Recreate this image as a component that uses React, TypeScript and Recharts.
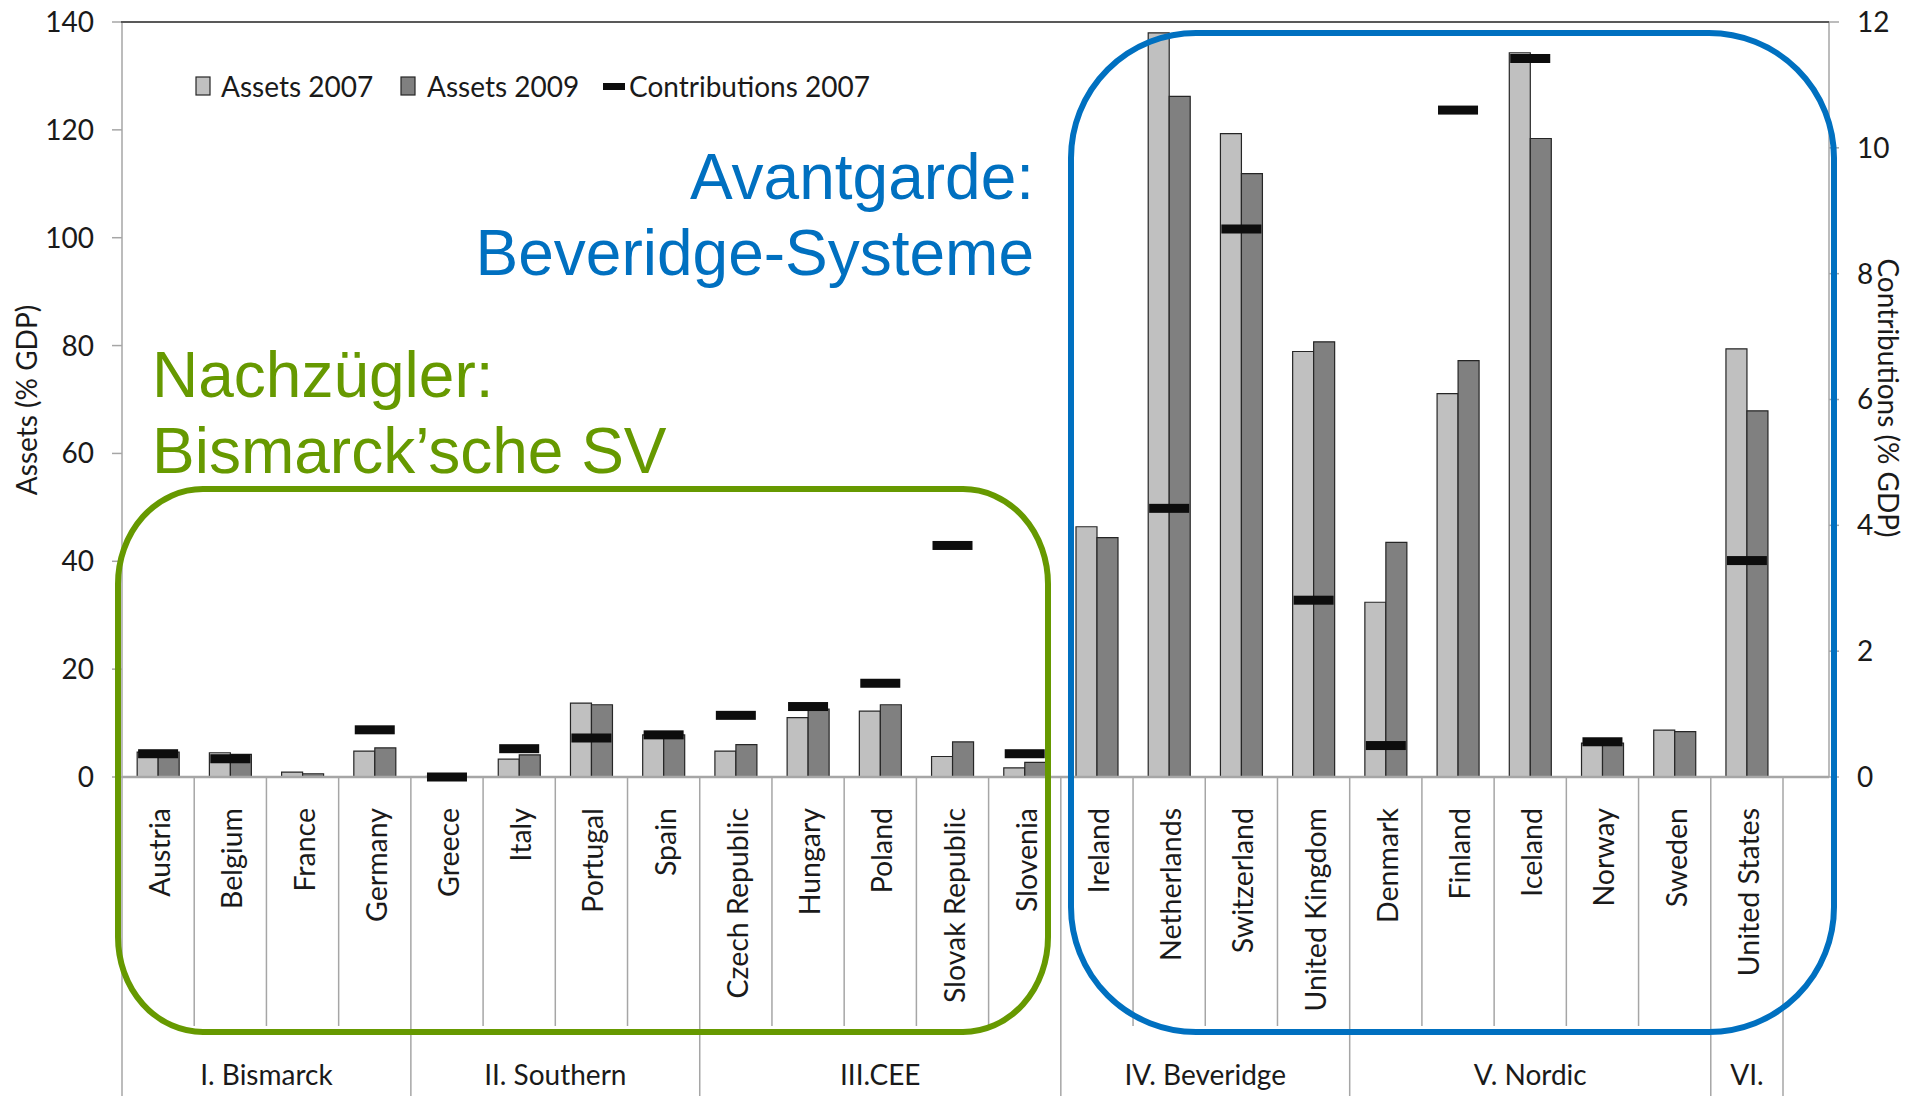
import { Bar, ComposedChart, Legend, Scatter, XAxis, YAxis } from 'recharts'

const COUNTRIES = [
  'Austria', 'Belgium', 'France', 'Germany', 'Greece', 'Italy', 'Portugal', 'Spain',
  'Czech Republic', 'Hungary', 'Poland', 'Slovak Republic', 'Slovenia',
  'Ireland', 'Netherlands', 'Switzerland', 'United Kingdom',
  'Denmark', 'Finland', 'Iceland', 'Norway', 'Sweden', 'United States',
]
const ASSETS_2007 = [4.6, 4.5, 0.9, 4.8, 0.1, 3.3, 13.7, 7.8, 4.8, 11.0, 12.2, 3.8, 1.7, 46.4, 138.0, 119.3, 78.9, 32.4, 71.1, 134.3, 6.3, 8.7, 79.4]
const ASSETS_2009 = [4.6, 4.2, 0.6, 5.4, 0.0, 4.1, 13.4, 7.8, 6.0, 12.6, 13.4, 6.5, 2.7, 44.4, 126.2, 111.9, 80.7, 43.5, 77.2, 118.4, 6.3, 8.4, 67.9]
const CONTRIB_2007: (number | null)[] = [0.37, 0.29, null, 0.75, 0.0, 0.45, 0.62, 0.67, 0.98, 1.12, 1.49, 3.68, 0.37, null, 4.27, 8.71, 2.81, 0.5, 10.6, 11.42, 0.56, null, 3.44]
const GROUPS: [string, number][] = [
  ['I. Bismarck', 4], ['II. Southern', 4], ['III.CEE', 5], ['IV. Beveridge', 4], ['V. Nordic', 5], ['VI.', 1],
]
const LEFT_TICKS = [0, 20, 40, 60, 80, 100, 120, 140]
const RIGHT_TICKS = [0, 2, 4, 6, 8, 10, 12]

const data = COUNTRIES.map((name, i) => ({ name, a07: ASSETS_2007[i], a09: ASSETS_2009[i], c07: CONTRIB_2007[i] }))

// layout
const W = 1909, H = 1096
const PLOT_L = 122, PLOT_R = 1829, PLOT_T = 22, AXIS_Y = 777
const PAD_R = 46
const BAND = (PLOT_R - PLOT_L - PAD_R) / COUNTRIES.length
const CAL = 'Lato, "Open Sans", sans-serif'
const ARIAL = '"Liberation Sans", Arial, sans-serif'
const GRID = '#a6a6a6'
const BLUE = '#0070c0'
const GREEN = '#669900'

const groupStart: Record<number, [string, number]> = {}
let acc = 0
for (const g of GROUPS) { groupStart[acc] = g; acc += g[1] }

function CountryTick(props: any) {
  const { payload } = props
  const i = typeof props.index === 'number' ? props.index : COUNTRIES.indexOf(payload.value)
  const cx = payload.coordinate ?? props.x
  const left = cx - BAND / 2
  const g = groupStart[i]
  const last = i === COUNTRIES.length - 1
  return (
    <g>
      <line x1={left} x2={left} y1={AXIS_Y} y2={g ? H : 1026} stroke={GRID} strokeWidth={1.5} />
      {last && <line x1={left + BAND} x2={left + BAND} y1={AXIS_Y} y2={H} stroke={GRID} strokeWidth={1.5} />}
      <text x={cx + 12} y={808} transform={`rotate(-90 ${cx + 12} 808)`} textAnchor="end"
        fontFamily={CAL} fontSize={28.5} fill="#1a1a1a">{payload.value}</text>
      {g && (
        <text x={left + (g[1] * BAND) / 2} y={1085} textAnchor="middle" fontFamily={CAL} fontSize={28} fill="#1a1a1a">
          {g[0]}
        </text>
      )}
    </g>
  )
}

function ContribMark(props: any) {
  const { cx, cy, payload } = props
  if (payload == null || payload.c07 == null || cy == null || isNaN(cy)) return <g />
  return <rect x={cx - 20} y={cy - 4.5} width={40} height={9} fill="#0d0d0d" />
}

function LegendKeys() {
  return (
    <svg width={720} height={40} style={{ display: 'block' }}>
      <rect x={6} y={9} width={14} height={18} fill="#c0c0c0" stroke="#262626" strokeWidth={1.2} />
      <text x={31} y={29} fontFamily={CAL} fontSize={28} fill="#1a1a1a">Assets 2007</text>
      <rect x={211} y={9} width={14} height={18} fill="#808080" stroke="#262626" strokeWidth={1.2} />
      <text x={237} y={29} fontFamily={CAL} fontSize={28} fill="#1a1a1a">Assets 2009</text>
      <rect x={413} y={15} width={22} height={7} fill="#0d0d0d" />
      <text x={439} y={29} fontFamily={CAL} fontSize={28} fill="#1a1a1a">Contributions 2007</text>
    </svg>
  )
}

export default function App() {
  return (
    <div style={{ position: 'absolute', left: 0, top: 0, width: W, height: H, background: '#fff' }}>
      <ComposedChart width={W} height={H} data={data} barCategoryGap="21%" barGap={0}
        margin={{ top: PLOT_T, right: 0, left: 0, bottom: 0 }}>
        <XAxis dataKey="name" interval={0} height={H - AXIS_Y} padding={{ left: 0, right: PAD_R }}
          axisLine={{ stroke: GRID, strokeWidth: 2.5 }} tickLine={false} tick={(p: any) => <CountryTick {...p} />} />
        <YAxis yAxisId="left" domain={[0, 140]} ticks={LEFT_TICKS} width={PLOT_L} tickSize={10} tickMargin={18}
          axisLine={{ stroke: GRID, strokeWidth: 1.5 }} tickLine={{ stroke: GRID, strokeWidth: 1.5 }}
          tick={{ fontFamily: CAL, fontSize: 28, fill: '#1a1a1a' }} />
        <YAxis yAxisId="right" orientation="right" domain={[0, 12]} ticks={RIGHT_TICKS} width={W - PLOT_R}
          tickSize={10} tickMargin={18}
          axisLine={{ stroke: GRID, strokeWidth: 1.5 }} tickLine={{ stroke: GRID, strokeWidth: 1.5 }}
          tick={{ fontFamily: CAL, fontSize: 28, fill: '#1a1a1a', textAnchor: 'start' }} />
        <Legend verticalAlign="middle" align="center" content={() => <LegendKeys />}
          wrapperStyle={{ left: 190, top: 68, width: 720, height: 40 }} />
        <Bar yAxisId="left" dataKey="a07" name="Assets 2007" fill="#c0c0c0" stroke="#262626" strokeWidth={1.2}
          isAnimationActive={false} />
        <Bar yAxisId="left" dataKey="a09" name="Assets 2009" fill="#808080" stroke="#262626" strokeWidth={1.2}
          isAnimationActive={false} />
        <Scatter yAxisId="right" dataKey="c07" name="Contributions 2007" shape={(p: any) => <ContribMark {...p} />}
          isAnimationActive={false} />
      </ComposedChart>
      <svg width={W} height={H} style={{ position: 'absolute', left: 0, top: 0, pointerEvents: 'none' }}>
        <line x1={PLOT_L - 1} x2={PLOT_R} y1={PLOT_T} y2={PLOT_T} stroke="#595959" strokeWidth={2} />
        <text x={37} y={400} transform="rotate(-90 37 400)" textAnchor="middle" fontFamily={CAL} fontSize={28} fill="#1a1a1a">
          Assets (% GDP)
        </text>
        <text x={1878} y={398} transform="rotate(90 1878 398)" textAnchor="middle" fontFamily={CAL} fontSize={28} fill="#1a1a1a">
          Contributions (% GDP)
        </text>
        <rect x={118} y={489} width={930} height={543} rx={85} ry={95} fill="none" stroke={GREEN} strokeWidth={6} />
        <rect x={1071} y={33} width={763} height={999} rx={125} ry={125} fill="none" stroke={BLUE} strokeWidth={6} />
        <text x={152} y={397} fontFamily={ARIAL} fontSize={64} fill={GREEN}>Nachzügler:</text>
        <text x={152} y={473} fontFamily={ARIAL} fontSize={64} fill={GREEN}>Bismarck’sche SV</text>
        <text x={1034} y={199} textAnchor="end" fontFamily={ARIAL} fontSize={64} fill={BLUE}>Avantgarde:</text>
        <text x={1034} y={275} textAnchor="end" fontFamily={ARIAL} fontSize={64} fill={BLUE}>Beveridge-Systeme</text>
      </svg>
    </div>
  )
}
